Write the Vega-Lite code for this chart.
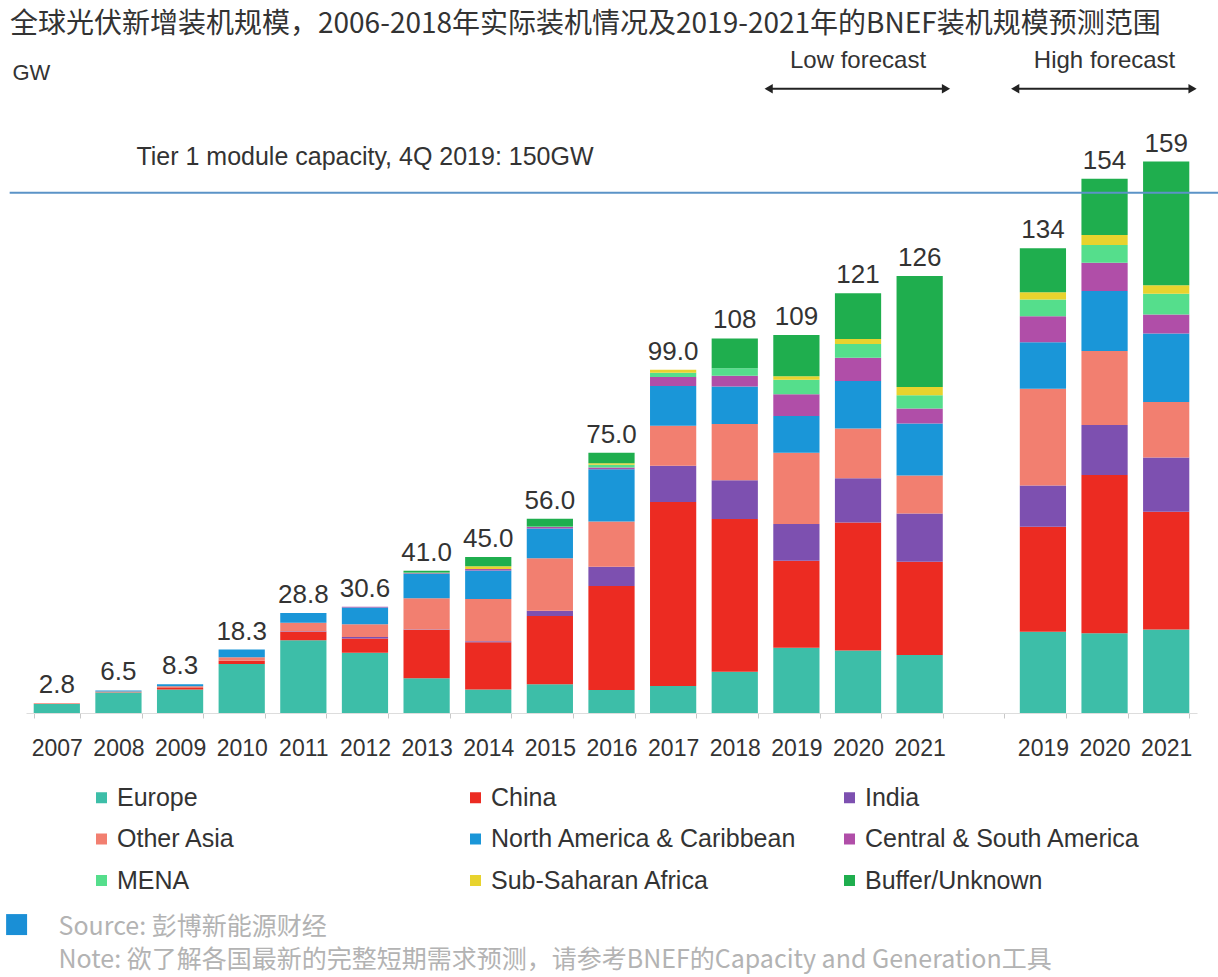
{
  "$schema": "https://vega.github.io/schema/vega-lite/v6.json",
  "autosize": "none",
  "width": 1171,
  "height": 659,
  "padding": {"left": 26, "top": 54, "right": 21, "bottom": 264},
  "background": "white",
  "config": {"font": "Liberation Sans", "view": {"stroke": null}},
  "title": {
    "text": "全球光伏新增装机规模，2006-2018年实际装机情况及2019-2021年的BNEF装机规模预测范围",
    "anchor": "start", "frame": "group", "dx": -16, "offset": 10,
    "font": "Noto Sans CJK SC", "fontSize": 28, "fontWeight": "normal", "color": "#333333"
  },
  "datasets": {
    "seg": [
      {"year": "2007", "Europe": 2.6, "Other Asia": 0.2},
      {"year": "2008", "Europe": 5.9, "China": 0.1, "Other Asia": 0.2, "North America & Caribbean": 0.3},
      {"year": "2009", "Europe": 6.8, "China": 0.4, "Other Asia": 0.5, "North America & Caribbean": 0.6},
      {"year": "2010", "Europe": 14.1, "China": 1.0, "Other Asia": 1.0, "North America & Caribbean": 2.2},
      {"year": "2011", "Europe": 21.0, "China": 2.4, "India": 0.2, "Other Asia": 2.4, "North America & Caribbean": 2.8},
      {"year": "2012", "Europe": 17.4, "China": 4.1, "India": 0.4, "Other Asia": 3.7, "North America & Caribbean": 4.8, "Central & South America": 0.2},
      {"year": "2013", "Europe": 10.0, "China": 13.9, "India": 0.2, "Other Asia": 9.0, "North America & Caribbean": 7.0, "Central & South America": 0.2, "MENA": 0.2, "Buffer/Unknown": 0.5},
      {"year": "2014", "Europe": 6.8, "China": 13.6, "India": 0.3, "Other Asia": 12.2, "North America & Caribbean": 8.2, "Central & South America": 0.4, "Sub-Saharan Africa": 0.8, "Buffer/Unknown": 2.7},
      {"year": "2015", "Europe": 8.3, "China": 19.7, "India": 1.5, "Other Asia": 15.1, "North America & Caribbean": 8.6, "Central & South America": 0.4, "MENA": 0.2, "Buffer/Unknown": 2.2},
      {"year": "2016", "Europe": 6.6, "China": 30.0, "India": 5.6, "Other Asia": 13.0, "North America & Caribbean": 15.1, "Central & South America": 0.5, "MENA": 0.8, "Sub-Saharan Africa": 0.4, "Buffer/Unknown": 3.0},
      {"year": "2017", "Europe": 7.8, "China": 53.0, "India": 10.5, "Other Asia": 11.5, "North America & Caribbean": 11.5, "Central & South America": 2.6, "MENA": 1.2, "Sub-Saharan Africa": 0.9},
      {"year": "2018", "Europe": 11.9, "China": 44.0, "India": 11.2, "Other Asia": 16.2, "North America & Caribbean": 10.8, "Central & South America": 3.1, "MENA": 2.2, "Buffer/Unknown": 8.6},
      {"year": "2019", "Europe": 18.8, "China": 25.1, "India": 10.6, "Other Asia": 20.5, "North America & Caribbean": 10.6, "Central & South America": 6.3, "MENA": 4.2, "Sub-Saharan Africa": 1.0, "Buffer/Unknown": 11.9},
      {"year": "2020", "Europe": 18.0, "China": 36.9, "India": 12.8, "Other Asia": 14.3, "North America & Caribbean": 13.7, "Central & South America": 6.7, "MENA": 4.0, "Sub-Saharan Africa": 1.4, "Buffer/Unknown": 13.2},
      {"year": "2021", "Europe": 16.7, "China": 26.9, "India": 13.9, "Other Asia": 11.0, "North America & Caribbean": 15.0, "Central & South America": 4.3, "MENA": 3.8, "Sub-Saharan Africa": 2.4, "Buffer/Unknown": 32.0},
      {"year": "2019H", "Europe": 23.4, "China": 30.3, "India": 11.9, "Other Asia": 27.9, "North America & Caribbean": 13.4, "Central & South America": 7.5, "MENA": 4.8, "Sub-Saharan Africa": 2.1, "Buffer/Unknown": 12.7},
      {"year": "2020H", "Europe": 23.0, "China": 45.6, "India": 14.4, "Other Asia": 21.4, "North America & Caribbean": 17.3, "Central & South America": 8.1, "MENA": 5.1, "Sub-Saharan Africa": 2.9, "Buffer/Unknown": 16.2},
      {"year": "2021H", "Europe": 24.1, "China": 33.9, "India": 15.7, "Other Asia": 16.0, "North America & Caribbean": 19.7, "Central & South America": 5.5, "MENA": 6.0, "Sub-Saharan Africa": 2.4, "Buffer/Unknown": 35.7}
    ],
    "totals": [
      {"year": "2007", "total": 2.8}, {"year": "2008", "total": 6.5}, {"year": "2009", "total": 8.3},
      {"year": "2010", "total": 18.3}, {"year": "2011", "total": 28.8}, {"year": "2012", "total": 30.6},
      {"year": "2013", "total": 41.0}, {"year": "2014", "total": 45.0}, {"year": "2015", "total": 56.0},
      {"year": "2016", "total": 75.0}, {"year": "2017", "total": 99.0}, {"year": "2018", "total": 108},
      {"year": "2019", "total": 109}, {"year": "2020", "total": 121}, {"year": "2021", "total": 126},
      {"year": "2019H", "total": 134}, {"year": "2020H", "total": 154}, {"year": "2021H", "total": 159}
    ],
    "forecast": [
      {"label": "Low forecast", "start": "2019", "mid": "2020", "end": "2021"},
      {"label": "High forecast", "start": "2019H", "mid": "2020H", "end": "2021H"}
    ],
    "tier": [
      {"capacity": 150, "label": "Tier 1 module capacity, 4Q 2019: 150GW", "at": "2012"}
    ],
    "source": [
      {"first": "2007", "note": "Source"}
    ]
  },
  "layer": [
    {
      "data": {"name": "seg"},
      "transform": [
        {"fold": ["Europe", "China", "India", "Other Asia", "North America & Caribbean", "Central & South America", "MENA", "Sub-Saharan Africa", "Buffer/Unknown"], "as": ["region", "gw"]},
        {"filter": "isValid(datum.gw)"},
        {"calculate": "indexof(['Europe', 'China', 'India', 'Other Asia', 'North America & Caribbean', 'Central & South America', 'MENA', 'Sub-Saharan Africa', 'Buffer/Unknown'], datum.region)", "as": "stackRank"}
      ],
      "mark": {"type": "bar"},
      "encoding": {
        "x": {
          "field": "year", "type": "nominal",
          "scale": {
            "domain": ["2007", "2008", "2009", "2010", "2011", "2012", "2013", "2014", "2015", "2016", "2017", "2018", "2019", "2020", "2021", "gap", "2019H", "2020H", "2021H"],
            "paddingInner": 0.25, "paddingOuter": 0.125
          },
          "axis": {
            "values": ["2007", "2008", "2009", "2010", "2011", "2012", "2013", "2014", "2015", "2016", "2017", "2018", "2019", "2020", "2021", "gap", "2019H", "2020H", "2021H"],
            "labelExpr": "isValid(datum.value) && datum.value != 'gap' ? substring(datum.value, 0, 4) : ''",
            "labelAngle": 0, "labelFontSize": 23, "labelColor": "#333333", "labelPadding": 19,
            "tickBand": "extent", "tickSize": 5, "tickColor": "#c8c8c8", "domainColor": "#dddddd",
            "title": ["Source: 彭博新能源财经", "Note: 欲了解各国最新的完整短期需求预测，请参考BNEF的Capacity and Generation工具"],
            "titleFont": "Noto Sans CJK SC", "titleFontSize": 25, "titleFontWeight": "normal", "titleColor": "#b3b3b3",
            "titleAlign": "left", "titleAnchor": "start", "titleBaseline": "top", "titleX": 32, "titleY": 201, "titleLineHeight": 33
          }
        },
        "y": {
          "field": "gw", "type": "quantitative", "aggregate": "sum", "stack": "zero",
          "scale": {"domain": [0, 190], "nice": false},
          "axis": {
            "title": "GW", "labels": false, "ticks": false, "domain": false, "grid": false,
            "titleAngle": 0, "titleAlign": "left", "titleBaseline": "top", "titleX": -14, "titleY": 8,
            "titleFontSize": 22, "titleFontWeight": "normal", "titleColor": "#333333"
          }
        },
        "order": {"field": "stackRank", "type": "quantitative", "aggregate": "min", "sort": "ascending"},
        "color": {
          "field": "region", "type": "nominal",
          "sort": ["Europe", "China", "India", "Other Asia", "North America & Caribbean", "Central & South America", "MENA", "Sub-Saharan Africa", "Buffer/Unknown"],
          "scale": {
            "domain": ["Europe", "China", "India", "Other Asia", "North America & Caribbean", "Central & South America", "MENA", "Sub-Saharan Africa", "Buffer/Unknown"],
            "range": ["#3dbea8", "#ec2b22", "#7d50b0", "#f27f70", "#1a96d8", "#b04ea8", "#55de8c", "#e8d32e", "#1fae4e"]
          },
          "legend": {
            "orient": "none", "legendX": 63, "legendY": 731, "direction": "horizontal", "columns": 3,
            "title": null, "symbolType": "square", "symbolSize": 121, "symbolStrokeWidth": 0,
            "labelFontSize": 25, "labelColor": "#333333", "labelOffset": 3, "labelLimit": 400,
            "columnPadding": 40, "rowPadding": 15.5, "gridAlign": "all", "padding": 0
          }
        }
      }
    },
    {
      "data": {"name": "totals"},
      "transform": [{"calculate": "datum.total >= 100 ? format(datum.total, 'd') : format(datum.total, '.1f')", "as": "lbl"}],
      "mark": {"type": "text", "baseline": "alphabetic", "dy": -10, "fontSize": 26, "color": "#333333"},
      "encoding": {
        "x": {"field": "year", "type": "nominal"},
        "y": {"field": "total", "type": "quantitative"},
        "text": {"field": "lbl"}
      }
    },
    {
      "data": {"name": "tier"},
      "mark": {"type": "rule", "color": "#5b93c7", "strokeWidth": 2},
      "encoding": {
        "x": {"datum": "2007", "bandPosition": -0.52},
        "x2": {"datum": "2021H", "bandPosition": 1.63},
        "y": {"field": "capacity", "type": "quantitative"}
      }
    },
    {
      "data": {"name": "tier"},
      "mark": {"type": "text", "baseline": "alphabetic", "dy": -28, "fontSize": 25, "color": "#333333"},
      "encoding": {
        "x": {"field": "at", "type": "nominal"},
        "y": {"field": "capacity", "type": "quantitative"},
        "text": {"field": "label"}
      }
    },
    {
      "data": {"name": "forecast"},
      "mark": {"type": "rule", "color": "#222222", "strokeWidth": 2},
      "encoding": {
        "x": {"field": "start", "type": "nominal", "bandPosition": -0.1},
        "x2": {"field": "end", "bandPosition": 1.07},
        "y": {"datum": 180}
      }
    },
    {
      "data": {"name": "forecast"},
      "mark": {"type": "point", "shape": "triangle-left", "filled": true, "size": 90, "color": "#222222", "opacity": 1},
      "encoding": {
        "x": {"field": "start", "type": "nominal", "bandPosition": -0.1},
        "y": {"datum": 180}
      }
    },
    {
      "data": {"name": "forecast"},
      "mark": {"type": "point", "shape": "triangle-right", "filled": true, "size": 90, "color": "#222222", "opacity": 1},
      "encoding": {
        "x": {"field": "end", "type": "nominal", "bandPosition": 1.07},
        "y": {"datum": 180}
      }
    },
    {
      "data": {"name": "forecast"},
      "mark": {"type": "text", "baseline": "middle", "fontSize": 24, "color": "#333333"},
      "encoding": {
        "x": {"field": "mid", "type": "nominal"},
        "y": {"datum": 188},
        "text": {"field": "label"}
      }
    },
    {
      "data": {"name": "source"},
      "mark": {"type": "square", "filled": true, "size": 440, "color": "#1a8fd6", "opacity": 1},
      "encoding": {
        "x": {"field": "first", "type": "nominal", "bandPosition": -0.37},
        "y": {"datum": -61}
      }
    }
  ]
}
